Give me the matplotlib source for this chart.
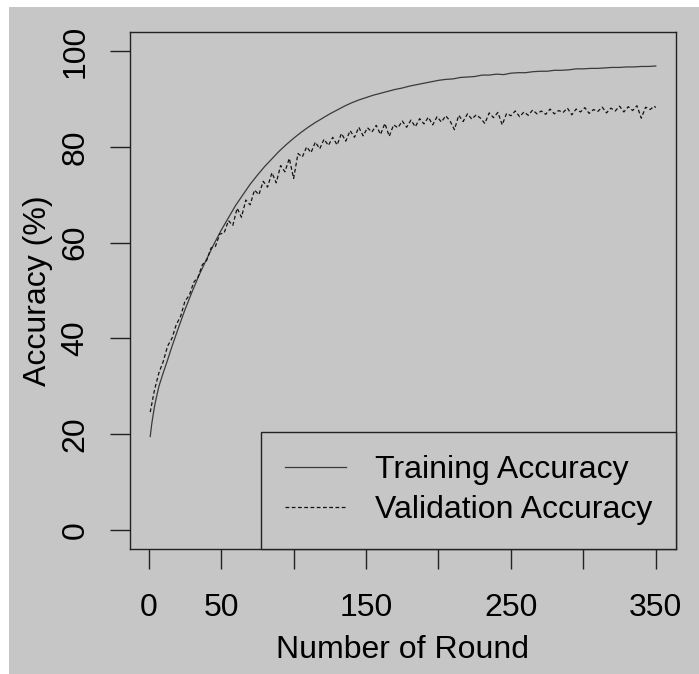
import numpy as np
import matplotlib
matplotlib.use("Agg")
import matplotlib.pyplot as plt
from matplotlib.patches import Rectangle

plt.rcParams["font.family"] = ["Liberation Sans", "DejaVu Sans"]

# ── Data ─────────────────────────────────────────────────────────────────────

train_rounds = [1, 2, 3, 4, 5, 7, 10, 13, 16, 20] + list(range(25, 351, 5))
train_acc = [
    19.5, 22.0, 24.0, 25.8, 27.3, 30.0, 32.8, 35.5, 38.3, 41.8,
    46.0, 49.8, 53.4, 56.6, 59.7, 62.6, 65.2, 67.8, 70.0, 72.2,
    74.1, 75.9, 77.5, 79.1, 80.5, 81.8, 83.0, 84.1, 85.1, 86.0,
    86.9, 87.7, 88.5, 89.2, 89.8, 90.3, 90.8, 91.2, 91.6, 92.0,
    92.3, 92.7, 93.0, 93.3, 93.6, 93.9, 94.1, 94.2, 94.5, 94.6,
    94.7, 95.0, 95.0, 95.2, 95.1, 95.4, 95.5, 95.5, 95.7, 95.8,
    95.8, 96.0, 96.0, 96.1, 96.3, 96.3, 96.4, 96.4, 96.5, 96.6,
    96.6, 96.7, 96.7, 96.8, 96.8, 96.9,
]

val_rounds = list(range(1, 350, 3)) + [350]
val_acc = [
    24.6, 29.3, 32.8, 35.2, 38.4, 40.0, 42.9, 44.6, 47.8, 49.0,
    51.7, 52.8, 55.4, 56.3, 58.9, 59.2, 61.8, 62.0, 64.6, 63.6,
    67.2, 65.3, 68.9, 67.9, 71.0, 70.0, 72.8, 71.6, 74.6, 72.5,
    76.1, 74.8, 77.6, 73.4, 78.6, 77.9, 80.0, 78.8, 81.0, 79.6,
    81.6, 80.3, 82.0, 80.4, 82.8, 81.2, 83.4, 82.0, 84.1, 82.3,
    84.0, 83.1, 84.5, 82.6, 84.9, 82.2, 84.6, 84.0, 85.4, 84.1,
    85.6, 84.2, 85.9, 84.8, 86.2, 84.6, 86.3, 85.2, 86.5, 85.4,
    83.6, 86.6, 85.3, 86.9, 85.8, 86.7, 86.0, 84.9, 87.1, 86.1,
    87.2, 84.6, 87.0, 86.5, 87.5, 86.3, 87.3, 86.6, 87.7, 86.9,
    87.5, 86.8, 87.9, 86.9, 87.6, 87.2, 88.1, 86.7, 87.9, 87.3,
    88.2, 87.0, 87.8, 87.4, 88.3, 87.1, 88.1, 87.5, 88.5, 87.3,
    88.4, 87.6, 88.6, 86.0, 88.3, 87.8, 88.5, 88.2,
]

x_ticks = [0, 50, 100, 150, 200, 250, 300, 350]
x_tick_labels = ["0", "50", "", "150", "", "250", "", "350"]
y_ticks = [0, 20, 40, 60, 80, 100]

# ── Figure ───────────────────────────────────────────────────────────────────

W, H = 699, 674
BG = "#c6c6c6"
FS = 23

fig = plt.figure(figsize=(W / 100, H / 100), dpi=100, facecolor="white")
fig.add_artist(Rectangle((9 / W, 0), 1 - 9 / W, 1 - 7 / H,
                         transform=fig.transFigure, facecolor=BG,
                         edgecolor="none", zorder=-10))

ax = fig.add_axes([130 / W, (H - 549) / H, 546 / W, 517 / H])
ax.set_facecolor(BG)

ax.plot(train_rounds, train_acc, color="#3a3a3a", linewidth=0.9,
        label="Training Accuracy")
ax.plot(val_rounds, val_acc, color="#111111", linewidth=0.9,
        linestyle=(0, (3, 2)), label="Validation Accuracy")

span = 349 * 0.04
ax.set_xlim(1 - span, 350 + span)
ax.set_ylim(-4, 104)

ax.set_xticks(x_ticks)
ax.set_xticklabels(x_tick_labels)
ax.set_yticks(y_ticks)
ax.set_yticklabels([str(v) for v in y_ticks], rotation=90, va="center")

ax.tick_params(direction="out", length=14.4, width=1.0, color="#222222",
               labelsize=FS, labelcolor="black")
ax.tick_params(axis="x", pad=17)
ax.tick_params(axis="y", pad=14)
for s in ax.spines.values():
    s.set_linewidth(1.0)
    s.set_color("#222222")

ax.set_xlabel("Number of Round", fontsize=FS, va="center")
ax.xaxis.set_label_coords(0.5, -0.195)
ax.set_ylabel("Accuracy (%)", fontsize=FS, va="center")
ax.yaxis.set_label_coords(-0.168, 0.5)

leg = ax.legend(loc="lower right", borderaxespad=0, fontsize=FS,
                frameon=True, fancybox=False, framealpha=1,
                facecolor=BG, edgecolor="#222222",
                handlelength=1.9, handletextpad=0.9,
                borderpad=0.75, labelspacing=0.3)
leg.get_frame().set_linewidth(1.0)

fig.savefig("out.png", dpi=100, facecolor=fig.get_facecolor())
